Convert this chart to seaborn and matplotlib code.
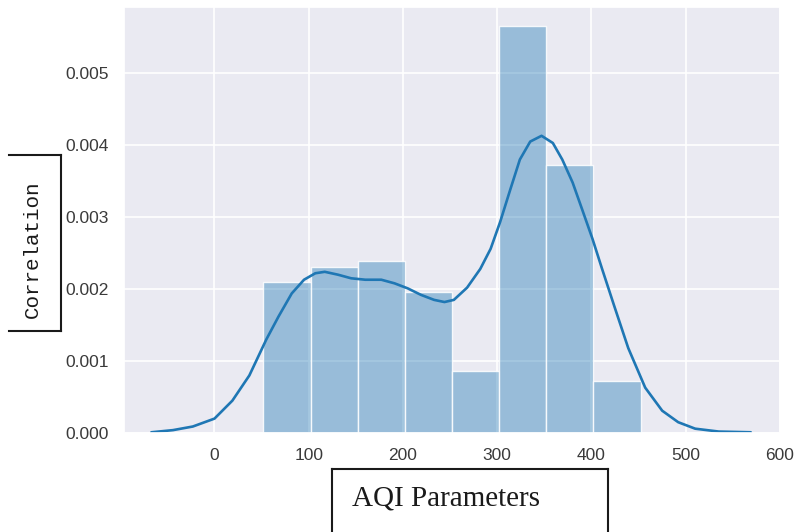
import numpy as np
import pandas as pd
import matplotlib
matplotlib.use("Agg")
import matplotlib.pyplot as plt
from matplotlib.lines import Line2D
import seaborn as sns

# Histogram of AQI values (density per bin)
bin_edges = [52, 102, 152, 202, 252, 302, 352, 402, 452]
bin_centers = [77, 127, 177, 227, 277, 327, 377, 427]
bin_density = [0.00210, 0.00231, 0.00239, 0.00196, 0.00086, 0.00565, 0.00373, 0.00072]

# Kernel density estimate of the same AQI values
kde_x = [-67, -44, -23, 0, 19, 37, 55, 68, 82, 95, 107, 117, 131, 145, 160,
         177, 191, 205, 219, 233, 244, 254, 268, 282, 293, 303, 314, 324, 335,
         347, 359, 369, 380, 390, 401, 411, 424, 439, 457, 475, 492, 510, 535, 569]
kde_y = [0.00001, 0.00004, 0.00009, 0.00020, 0.00045, 0.00080, 0.00130, 0.00162,
         0.00194, 0.00213, 0.00222, 0.00224, 0.00220, 0.00215, 0.00213, 0.00213,
         0.00208, 0.00201, 0.00192, 0.00185, 0.00182, 0.00185, 0.00202, 0.00228,
         0.00256, 0.00293, 0.00339, 0.00380, 0.00405, 0.00413, 0.00403, 0.00380,
         0.00348, 0.00311, 0.00270, 0.00229, 0.00177, 0.00118, 0.00063, 0.00031,
         0.00015, 0.00006, 0.00002, 0.00001]

x_ticks = [0, 100, 200, 300, 400, 500, 600]
y_ticks = [0.000, 0.001, 0.002, 0.003, 0.004, 0.005]

sns.set_theme(style="darkgrid")
plt.rcParams["font.family"] = ["Liberation Sans", "DejaVu Sans"]

W, H = 794, 532
fig = plt.figure(figsize=(W / 100, H / 100), dpi=100)
ax = fig.add_axes([124 / W, 1 - 433 / H, (780 - 124) / W, (433 - 7) / H])

blue = "#1f77b4"
hist_df = pd.DataFrame({"aqi": bin_centers, "density": bin_density})
sns.histplot(data=hist_df, x="aqi", weights="density", bins=bin_edges,
             stat="count", color=blue, ax=ax, linewidth=1)
face = matplotlib.colors.to_rgba(blue, 0.4)
for p in ax.patches:
    p.set_alpha(None)
    p.set_facecolor(face)
    p.set_edgecolor((1, 1, 1, 0.85))

kde_df = pd.DataFrame({"aqi": kde_x, "density": kde_y})
sns.lineplot(data=kde_df, x="aqi", y="density", color=blue, lw=1.9, ax=ax,
             sort=True, estimator=None)
for ln in ax.lines:
    ln.set_solid_joinstyle("round")

ax.set_xlim(-96, 598)
ax.set_ylim(0, 0.00592)
ax.set_xticks(x_ticks)
ax.set_xticklabels([str(t) for t in x_ticks])
ax.set_yticks(y_ticks)
ax.set_yticklabels([f"{t:.3f}" for t in y_ticks])
ax.tick_params(axis="both", labelsize=12.5, pad=11, colors="#3a3a3a", length=0)
ax.set_xlabel("")
ax.set_ylabel("")
ax.grid(True, color="white", lw=1.2)


def fpt(x, y):
    return x / W, 1 - y / H


def seg(p0, p1):
    (x0, y0), (x1, y1) = fpt(*p0), fpt(*p1)
    fig.add_artist(Line2D([x0, x1], [y0, y1], transform=fig.transFigure,
                          color="#1a1a1a", lw=1.5, solid_capstyle="projecting"))


# Boxed axis captions
seg((9, 155), (61, 155))
seg((61, 155), (61, 331))
seg((9, 331), (61, 331))
fig.text(*fpt(32, 249), "Correlation", rotation=90, ha="center", va="center",
         family=["Liberation Mono", "DejaVu Sans Mono"], fontsize=15, color="#1a1a1a")

seg((331.5, 540), (331.5, 468.5))
seg((331.5, 468.5), (607.5, 468.5))
seg((607.5, 468.5), (607.5, 540))
fig.text(*fpt(352, 505), "AQI Parameters", ha="left", va="baseline",
         family=["Liberation Serif", "DejaVu Serif"], fontsize=21, color="#1a1a1a")

fig.savefig("out.png", dpi=100)
